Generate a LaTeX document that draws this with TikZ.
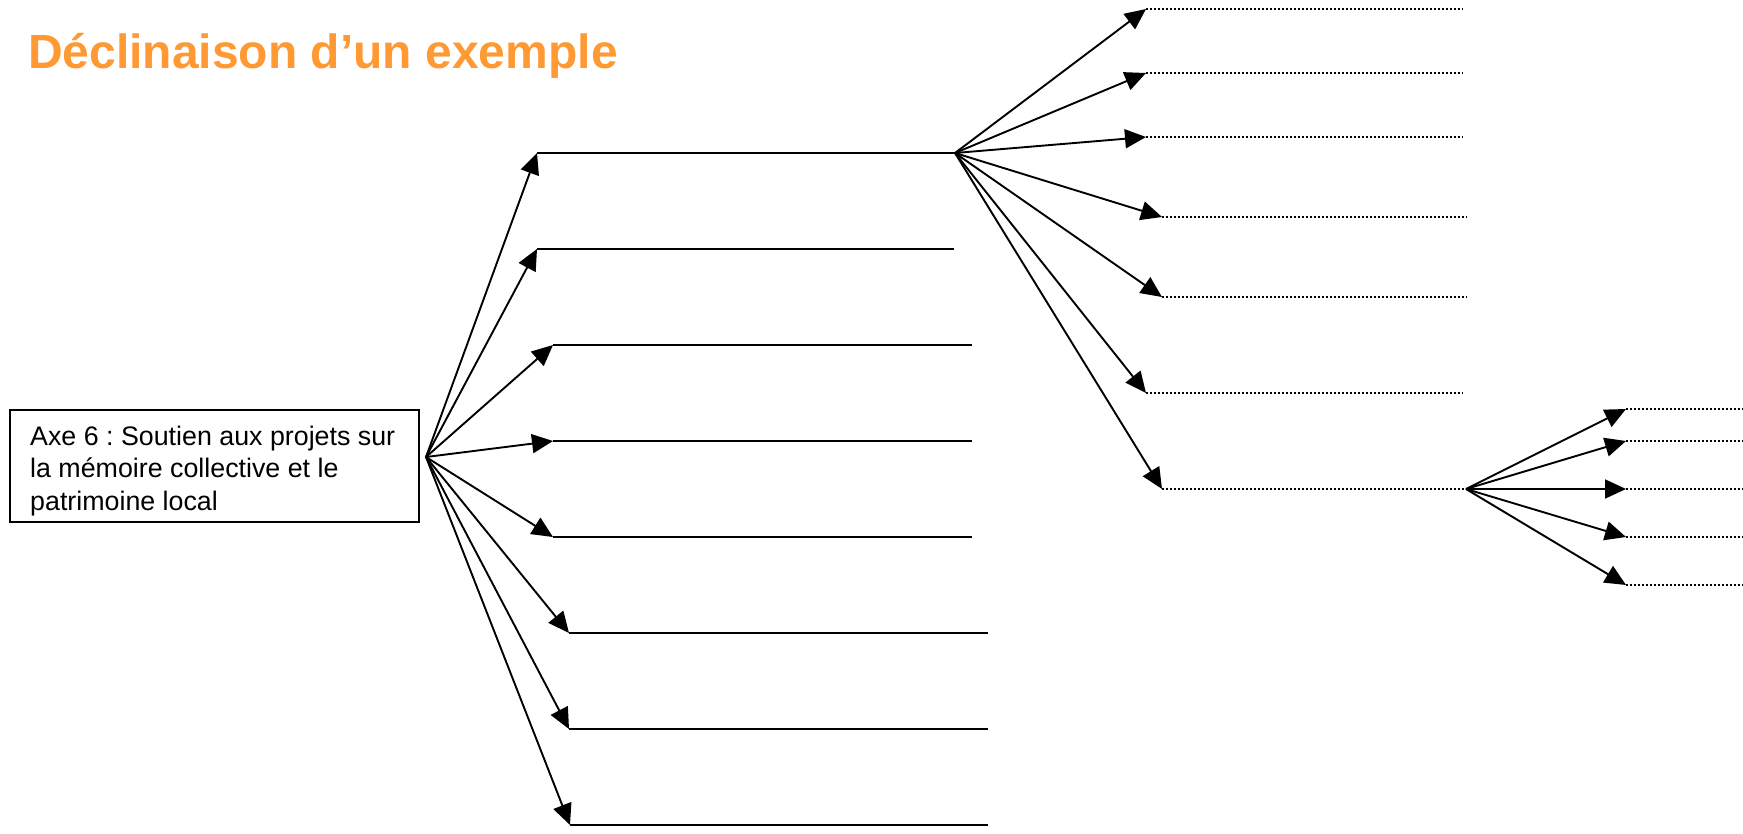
\documentclass[tikz,border=0pt]{standalone}
\usepackage{fontspec}
\setmainfont{Liberation Sans}
\usetikzlibrary{arrows.meta}
\definecolor{titleorange}{RGB}{255,153,51}
\frenchspacing
\begin{document}
\begin{tikzpicture}[x=1pt,y=-1pt,
  conn/.style={line width=1.9pt, -{Triangle[length=21pt,width=19pt]}},
  solidline/.style={line width=1.9pt},
  dotline/.style={line width=1.5pt, dash pattern=on 1.5pt off 2.5pt},
  boxstyle/.style={draw, line width=1.8pt, minimum width=409pt, minimum height=112pt, anchor=north west, inner sep=0pt}
]
\useasboundingbox (0,0) rectangle (1743,833);
% title
\node[font=\bfseries\fontsize{48}{56}\selectfont, text=titleorange, anchor=base west, inner sep=0pt] (title) at (28,68) {Déclinaison d’un exemple};
% box
\node[boxstyle] (axe) at (9,409) {};
\node[anchor=north west, inner sep=0pt, align=left, font=\fontsize{26.8}{32.5}\selectfont] (axetxt) at (30,425.5) {Axe 6 : Soutien aux projets sur\\la mémoire collective et le\\patrimoine local};
% hubs
\coordinate (hubA) at (426,457);
\coordinate (hubB) at (955,153);
\coordinate (hubC) at (1466,489);
% first fan tips and line ends
\coordinate (a1) at (537,153); \coordinate (a1e) at (955,153);
\coordinate (a2) at (537,249); \coordinate (a2e) at (954,249);
\coordinate (a3) at (553,345); \coordinate (a3e) at (972,345);
\coordinate (a4) at (553,441); \coordinate (a4e) at (972,441);
\coordinate (a5) at (553,537); \coordinate (a5e) at (972,537);
\coordinate (a6) at (569,633); \coordinate (a6e) at (988,633);
\coordinate (a7) at (569,729); \coordinate (a7e) at (988,729);
\coordinate (a8) at (570,825); \coordinate (a8e) at (988,825);
\foreach \i in {1,...,8} {
  \draw[conn] (hubA) -- (a\i);
  \draw[solidline] (a\i) -- (a\i e);
}
% second fan
\coordinate (b1) at (1146,9);   \coordinate (b1e) at (1463,9);
\coordinate (b2) at (1146,73);  \coordinate (b2e) at (1463,73);
\coordinate (b3) at (1146,137); \coordinate (b3e) at (1463,137);
\coordinate (b4) at (1162,217); \coordinate (b4e) at (1467,217);
\coordinate (b5) at (1162,297); \coordinate (b5e) at (1467,297);
\coordinate (b6) at (1146,393); \coordinate (b6e) at (1463,393);
\coordinate (b7) at (1162,489); \coordinate (b7e) at (1466,489);
\foreach \i in {1,...,7} {
  \draw[conn] (hubB) -- (b\i);
  \draw[dotline] (b\i) -- (b\i e);
}
% third fan
\coordinate (c1) at (1626,409); \coordinate (c1e) at (1743,409);
\coordinate (c2) at (1626,441); \coordinate (c2e) at (1743,441);
\coordinate (c3) at (1626,489); \coordinate (c3e) at (1743,489);
\coordinate (c4) at (1626,537); \coordinate (c4e) at (1743,537);
\coordinate (c5) at (1626,585); \coordinate (c5e) at (1743,585);
\foreach \i in {1,...,5} {
  \draw[conn] (hubC) -- (c\i);
  \draw[dotline] (c\i) -- (c\i e);
}
\end{tikzpicture}
\end{document}
